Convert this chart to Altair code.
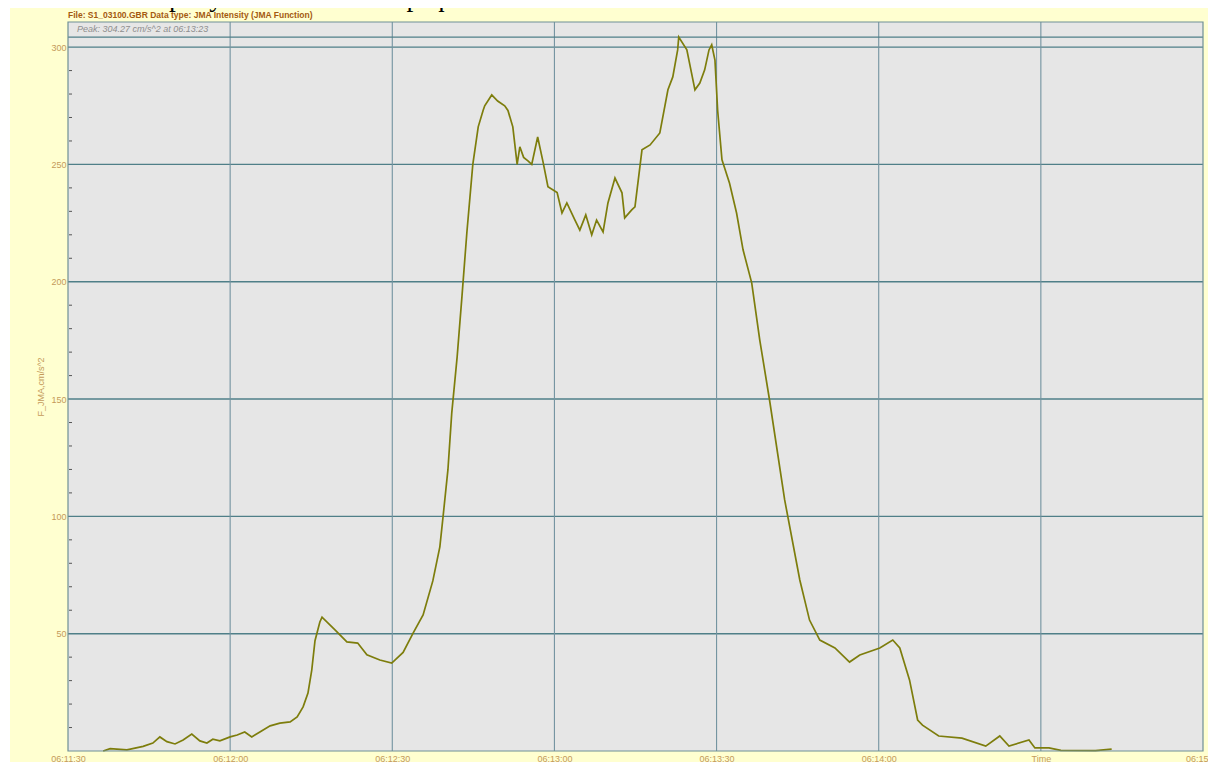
import altair as alt
import pandas as pd

# ---------------- data ----------------
# seconds after 06:11:30
T_SEC = [6.5, 7.8, 10.9, 13.9, 15.7, 17.0, 18.3, 19.8, 21.3, 22.9, 24.4, 25.7, 26.8, 28.1,
         30.0, 31.3, 32.7, 34.0, 35.5, 37.4, 39.2, 41.1, 42.4, 43.5, 44.4, 45.1, 45.7, 46.6,
         47.0, 49.4, 51.6, 53.6, 55.3, 57.7, 59.9, 62.0, 63.8, 65.7, 67.5, 68.8, 69.4, 70.3,
         71.0, 72.0, 72.9, 73.8, 74.9, 75.9, 76.8, 77.1, 78.4, 79.5, 80.8, 81.4, 82.3, 83.1,
         83.6, 84.3, 85.1, 85.8, 86.9, 87.9, 88.8, 90.5, 91.4, 92.3, 93.8, 94.7, 95.8, 96.9,
         97.8, 99.0, 99.9, 101.2, 102.5, 103.0, 104.3, 104.9, 106.2, 107.7, 109.5, 111.0,
         111.9, 112.8, 113.0, 114.5, 116.0, 116.9, 117.8, 118.6, 119.1, 119.7, 120.2, 121.0,
         122.4, 123.7, 124.9, 126.5, 128.0, 129.8, 132.6, 135.4, 137.2, 139.1, 141.9, 144.6,
         146.5, 150.2, 152.6, 153.9, 155.7, 157.2, 158.1, 161.1, 165.4, 169.8, 172.4, 174.1,
         177.8, 178.9, 181.5, 183.7, 190.1, 193.1]
F_JMA = [0.0, 1.0, 0.5, 2.0, 3.4, 6.0, 4.0, 3.0, 4.7, 7.2, 4.3, 3.4, 5.0, 4.3,
         6.0, 6.8, 8.1, 6.0, 8.1, 10.7, 11.9, 12.4, 14.5, 18.8, 24.7, 34.5, 47.0, 55.0,
         57.0, 51.6, 46.5, 46.0, 41.0, 38.8, 37.5, 42.0, 50.0, 58.0, 72.5, 87.0, 100.0, 120.0,
         144.0, 168.0, 194.0, 221.0, 250.0, 266.0, 273.0, 275.0, 279.6, 277.0, 275.0, 273.0, 266.0, 250.0,
         257.5, 253.0, 251.5, 250.0, 261.7, 251.0, 240.5, 238.0, 229.3, 233.6, 226.3, 222.0, 228.5, 220.0,
         226.3, 221.2, 233.6, 244.2, 237.9, 227.2, 230.6, 231.9, 256.2, 258.3, 263.4, 281.8,
         287.3, 298.8, 304.27, 298.8, 281.8, 284.7, 290.3, 298.8, 301.0, 294.5, 273.0, 252.0,
         242.0, 229.3, 213.6, 199.5, 175.0, 149.6, 107.0, 72.9, 55.8, 47.3, 43.9, 37.9,
         40.9, 43.9, 47.3, 43.9, 30.3, 13.2, 11.0, 6.4, 5.5, 2.1, 6.4, 2.1,
         4.7, 1.3, 1.3, 0.3, 0.2, 0.8]

Y_MAJOR = [50, 100, 150, 200, 250, 300]
Y_MINOR = [10, 20, 30, 40, 60, 70, 80, 90, 110, 120, 130, 140, 160, 170, 180, 190,
           210, 220, 230, 240, 260, 270, 280, 290]
X_TICKS = [0, 30, 60, 90, 120, 150, 180, 210]
X_GRID = [30, 60, 90, 120, 150, 180]
START_SEC = 11 * 60 + 30          # 06:11:30 as seconds after 06:00
TIME_LABEL_AT = 180               # the tick labelled "Time"
PEAK = 304.27

HEADER = "File: S1_03100.GBR  Data type: JMA Intensity (JMA Function)"
PEAK_TEXT = "Peak: 304.27 cm/s^2 at 06:13:23"
Y_TITLE = "F_JMA,cm/s^2"
PAGE_TEXT = "На рисунке 6. показан график интенсивности сейсмических волн."

# ---------------- layout / style ----------------
W, H = 1135, 729
Y_MAX = 310.7
X_MAX = 210
YELLOW = "#ffffd0"
PLOT_BG = "#e6e6e6"
GRID_H = "#4f7f88"
GRID_V = "#7393a0"
LINE_C = "#7d7d0c"
TAN = "#c49a5a"
BROWN = "#a45a10"
FONT = "Liberation Sans Narrow, Liberation Sans, Arial, sans-serif"

df = pd.DataFrame({"t": T_SEC, "v": F_JMA})
one = pd.DataFrame({"a": [0]})

xscale = alt.Scale(domain=[0, X_MAX], nice=False, zero=False)
yscale = alt.Scale(domain=[0, Y_MAX], nice=False)

label_expr = (
    f"datum.value == {TIME_LABEL_AT} ? 'Time' : "
    f"'06:' + format(floor(({START_SEC} + datum.value) / 60), '02d') + ':' + "
    f"format(({START_SEC} + datum.value) % 60, '02d')"
)

yellow = alt.Chart(one).mark_rect(color=YELLOW).encode(
    x=alt.value(-58), x2=alt.value(W + 12), y=alt.value(-14), y2=alt.value(H + 20)
)
grey = alt.Chart(one).mark_rect(color=PLOT_BG).encode(
    x=alt.value(0), x2=alt.value(W), y=alt.value(0), y2=alt.value(H)
)

hgrid = alt.Chart(pd.DataFrame({"y": Y_MAJOR})).mark_rule(color=GRID_H, strokeWidth=1.4).encode(
    y=alt.Y("y:Q", scale=yscale)
)
vgrid = alt.Chart(pd.DataFrame({"x": X_GRID})).mark_rule(color=GRID_V, strokeWidth=1.1).encode(
    x=alt.X("x:Q", scale=xscale)
)
peak_rule = alt.Chart(pd.DataFrame({"y": [PEAK]})).mark_rule(color=GRID_H, strokeWidth=1.2).encode(
    y=alt.Y("y:Q", scale=yscale)
)
minor = alt.Chart(pd.DataFrame({"y": Y_MINOR})).mark_rule(color="#555555", strokeWidth=1).encode(
    y=alt.Y("y:Q", scale=yscale), x=alt.value(1), x2=alt.value(4)
)

line = alt.Chart(df).mark_line(color=LINE_C, strokeWidth=1.7).encode(
    x=alt.X(
        "t:Q", scale=xscale,
        axis=alt.Axis(values=X_TICKS, labelExpr=label_expr, grid=False, domain=False,
                      ticks=False, labelColor=TAN, labelFont=FONT, labelFontSize=9,
                      labelPadding=3, title=None, zindex=1, labelOverlap=False,
                      labelFlush=False),
    ),
    y=alt.Y(
        "v:Q", scale=yscale,
        axis=alt.Axis(values=Y_MAJOR, grid=False, domain=False, ticks=False,
                      labelColor=TAN, labelFont=FONT, labelFontSize=9, labelPadding=2,
                      title=Y_TITLE, titleColor=TAN, titleFont=FONT, titleFontSize=9,
                      titleFontWeight="normal", titlePadding=5, zindex=1),
    ),
)

border = alt.Chart(one).mark_rect(fillOpacity=0, stroke="#6f8f96", strokeWidth=1.2).encode(
    x=alt.value(0), x2=alt.value(W), y=alt.value(0), y2=alt.value(H)
)

header = alt.Chart(one).mark_text(
    text=HEADER, align="left", baseline="middle", font=FONT, fontSize=8.5,
    fontWeight="bold", color=BROWN
).encode(x=alt.value(0), y=alt.value(-7))

peak_txt = alt.Chart(one).mark_text(
    text=PEAK_TEXT, align="left", baseline="middle", font=FONT, fontSize=9,
    fontStyle="italic", color="#8e8e8e"
).encode(x=alt.value(9), y=alt.value(7))

page_txt = alt.Chart(one).mark_text(
    text=PAGE_TEXT, align="left", baseline="alphabetic", font="Liberation Serif, serif",
    fontSize=27.5, color="#000000"
).encode(x=alt.value(62), y=alt.value(-16))

chart = alt.layer(
    yellow, grey, hgrid, vgrid, peak_rule, minor, line, border, header, peak_txt, page_txt
).properties(
    width=W, height=H,
    padding={"left": 60, "top": 14, "right": 5, "bottom": 11},
    autosize=alt.AutoSizeParams(type="none"),
    background="white",
).configure_view(stroke=None)

chart.save("out.html", embed_options={"renderer": "svg", "actions": False})
